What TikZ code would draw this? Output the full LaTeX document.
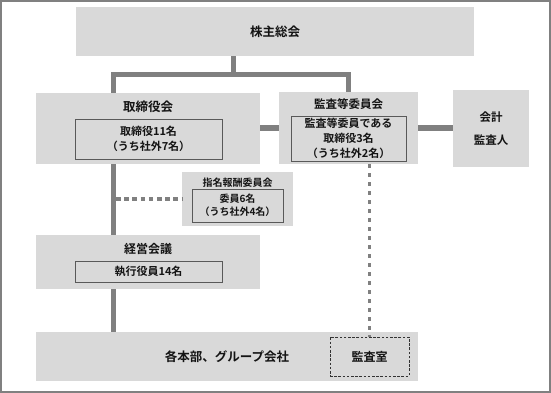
\documentclass[tikz,border=0pt]{standalone}
\usepackage{fontspec}
\setmainfont{Noto Sans CJK JP}[BoldFont={Noto Sans CJK JP Bold}]
\usetikzlibrary{positioning}
\definecolor{boxgray}{HTML}{D9D9D9}
\definecolor{linegray}{HTML}{808080}
\definecolor{rimgray}{HTML}{595959}
\definecolor{inkgray}{HTML}{141414}

\begin{document}
\begin{tikzpicture}[
   x=1pt, y=-1pt,
   panel/.style={fill=boxgray, inner sep=0pt, text=inkgray, align=center,
      font=\bfseries\fontsize{12.5}{15}\selectfont},
   caption/.style={text=inkgray, inner sep=0pt,
      font=\bfseries\fontsize{12}{15}\selectfont},
   inset/.style={draw=rimgray, line width=0.9pt, fill=boxgray, inner sep=0pt,
      text=inkgray, align=center, font=\bfseries\fontsize{11}{15}\selectfont},
   link/.style={draw=linegray, line width=5pt},
   dotlink/.style={draw=linegray, line width=4.5pt, dash pattern=on 4.5pt off 3.7pt},
   finelink/.style={draw=linegray, line width=3.6pt, dash pattern=on 3.6pt off 5.4pt}
]
\useasboundingbox (0,0) rectangle (551,393);
\draw[linegray, line width=1.3pt] (1,1) rectangle (550,392);

% top level
\node[panel, minimum width=398pt, minimum height=48.5pt] (agm) at (275,31.75) {株主総会};

% board of directors
\node[panel, minimum width=224pt, minimum height=71pt] (board) at (148,128.5) {};
\node[caption, font=\bfseries\fontsize{12.5}{15}\selectfont] (boardtitle) at (148,107) {取締役会};
\node[inset, minimum width=147pt, minimum height=39.5pt] (boardmembers) at (148.5,139.25)
   {取締役11名\\（うち社外7名）};

% audit and supervisory committee
\node[panel, minimum width=139pt, minimum height=72pt] (committee) at (348.5,128) {};
\node[caption, font=\bfseries\fontsize{11.5}{15}\selectfont] (committeetitle) at (348.5,104) {監査等委員会};
\node[inset, minimum width=115pt, minimum height=45pt] (committeemembers) at (348.5,138.5)
   {監査等委員である\\取締役3名\\（うち社外2名）};

% accounting auditor
\node[panel, minimum width=76pt, minimum height=77pt,
   font=\bfseries\fontsize{11.5}{23}\selectfont] (auditor) at (491,128.5) {会計\\監査人};

% nomination and remuneration committee
\node[panel, minimum width=111pt, minimum height=54pt] (nomination) at (237.5,199) {};
\node[caption, font=\bfseries\fontsize{10}{13}\selectfont] (nominationtitle) at (237.5,183) {指名報酬委員会};
\node[inset, minimum width=91pt, minimum height=33pt,
   font=\bfseries\fontsize{10}{13}\selectfont] (nominationmembers) at (237.5,205.5)
   {委員6名\\（うち社外4名）};

% management meeting
\node[panel, minimum width=224pt, minimum height=54pt] (meeting) at (148,262) {};
\node[caption] (meetingtitle) at (148,249) {経営会議};
\node[inset, minimum width=147pt, minimum height=21pt] (meetingmembers) at (148.5,271.5)
   {執行役員14名};

% divisions
\node[panel, minimum width=382pt, minimum height=49pt] (divisions) at (227,356.5) {};
\node[caption, font=\bfseries\fontsize{12.5}{15}\selectfont] (divisionstitle) at (227,357) {各本部、グループ会社};
\node[panel, draw=black!80, line width=1pt, dash pattern=on 2.6pt off 1.6pt,
   minimum width=79pt, minimum height=39pt, font=\bfseries\fontsize{12}{15}\selectfont]
   (auditoffice) at (369.5,356.5) {監査室};

% connectors
\coordinate (fork) at (233,74.5);
\coordinate (tap) at (116,199);
\draw[link] (fork) -- (fork |- agm.south);
\draw[link] ([xshift=-34.5pt]board.north) |- (fork) -| (committee.north);
\draw[link] (board.east |- committee.east) -- (committee.west);
\draw[link] (committee.east) -- (committee.east -| auditor.west);
\draw[link] ([xshift=-34.5pt]board.south) -- ([xshift=-34.5pt]meeting.north);
\draw[link] ([xshift=-34.5pt]meeting.south) -- ([xshift=-34.5pt]meeting.south |- divisions.north);
\draw[dotlink] (tap) -- (nomination.west);
\draw[finelink] (auditoffice.north |- committee.south) -- (auditoffice.north);
\end{tikzpicture}
\end{document}
